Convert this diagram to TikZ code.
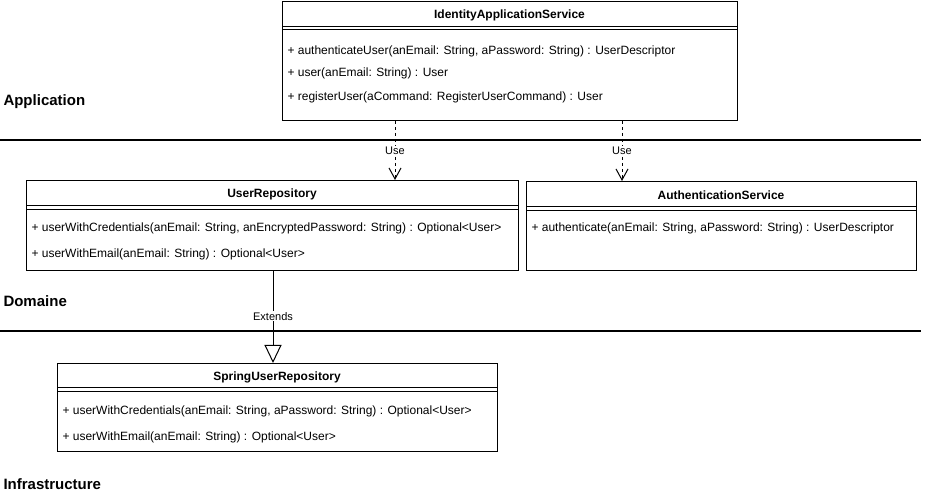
\documentclass[tikz,border=0pt]{standalone}
\usepackage{fontspec}
\setmainfont{Liberation Sans}
\usetikzlibrary{arrows.meta}

\begin{document}
\begin{tikzpicture}[x=1pt, y=-1pt, line width=1pt,
  classbox/.style={draw, rectangle, anchor=north west, inner sep=0pt},
  classname/.style={inner sep=0pt, yshift=-1.5pt, font={\fontsize{12}{14}\selectfont\bfseries}},
  method/.style={anchor=west, inner sep=0pt, yshift=-1.5pt, font={\fontsize{12}{14}\selectfont}},
  layer/.style={anchor=west, inner sep=0pt, yshift=-1.5pt, font={\fontsize{15}{18}\selectfont\bfseries}},
  layerline/.style={line width=2pt},
  rel/.style={fill=white, inner sep=1pt, font={\fontsize{11}{13}\selectfont}},
  use/.style={dash pattern=on 3pt off 3pt, -{Straight Barb[length=11pt, width=12pt]}},
  extends/.style={-{Triangle[open, length=18pt, width=17pt, fill=white]}}]

\useasboundingbox (0,0) rectangle (937,502);

\draw[layerline] (0,140) -- (921,140);
\draw[layerline] (0,331) -- (921,331);

\node[layer] (application) at (3,100) {Application};
\node[layer] (domaine) at (3,300) {Domaine};
\node[layer] (infrastructure) at (3,483) {Infrastructure};

\node[classbox, minimum width=455pt, minimum height=119pt] (ias) at (282,1) {};
\node[classname] (iasname) at (509.5,14) {IdentityApplicationService};
\draw ([yshift=-26pt]ias.north west) -- ([yshift=-26pt]ias.north east);
\draw ([yshift=-29pt]ias.north west) -- ([yshift=-29pt]ias.north east);
\node[method] (ias1) at (287,50) {+ authenticateUser(anEmail: String, aPassword: String) : UserDescriptor};
\node[method] (ias2) at (287,72) {+ user(anEmail: String) : User};
\node[method] (ias3) at (287,96) {+ registerUser(aCommand: RegisterUserCommand) : User};

\node[classbox, minimum width=492pt, minimum height=90pt] (urepo) at (26,180) {};
\node[classname] (ureponame) at (272,193) {UserRepository};
\draw ([yshift=-26pt]urepo.north west) -- ([yshift=-26pt]urepo.north east);
\draw ([yshift=-30pt]urepo.north west) -- ([yshift=-30pt]urepo.north east);
\node[method] (urepo1) at (31,227) {+ userWithCredentials(anEmail: String, anEncryptedPassword: String) : Optional<User>};
\node[method] (urepo2) at (31,253) {+ userWithEmail(anEmail: String) : Optional<User>};

\node[classbox, minimum width=390pt, minimum height=89pt] (auth) at (526,181) {};
\node[classname] (authname) at (721,194) {AuthenticationService};
\draw ([yshift=-26pt]auth.north west) -- ([yshift=-26pt]auth.north east);
\draw ([yshift=-30pt]auth.north west) -- ([yshift=-30pt]auth.north east);
\node[method] (auth1) at (531,227) {+ authenticate(anEmail: String, aPassword: String) : UserDescriptor};

\node[classbox, minimum width=440pt, minimum height=88pt] (spring) at (57,363) {};
\node[classname] (springname) at (277,376) {SpringUserRepository};
\draw ([yshift=-25pt]spring.north west) -- ([yshift=-25pt]spring.north east);
\draw ([yshift=-29pt]spring.north west) -- ([yshift=-29pt]spring.north east);
\node[method] (spring1) at (62,410) {+ userWithCredentials(anEmail: String, aPassword: String) : Optional<User>};
\node[method] (spring2) at (62,436) {+ userWithEmail(anEmail: String) : Optional<User>};

\coordinate (usex1) at (395,0);
\coordinate (usex2) at (622,0);
\coordinate (extx) at (273,0);

\draw[use] (ias.south -| usex1) -- (urepo.north -| usex1) node[rel, pos=0.5] {Use};
\draw[use] (ias.south -| usex2) -- (auth.north -| usex2) node[rel, pos=0.5] {Use};
\draw[extends] (urepo.south -| extx) -- (spring.north -| extx) node[rel, pos=0.49] {Extends};

\end{tikzpicture}
\end{document}
